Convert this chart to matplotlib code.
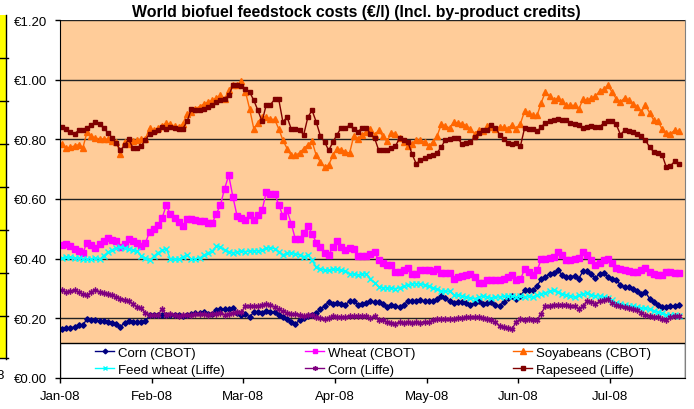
import numpy as np
import matplotlib
matplotlib.use("Agg")
import matplotlib.pyplot as plt
from matplotlib.legend import Legend
from matplotlib.patches import Rectangle
from matplotlib.lines import Line2D
from matplotlib.ticker import FuncFormatter, FixedLocator

plt.rcParams["font.family"] = ["Liberation Sans", "DejaVu Sans"]

# daily quotes, trading-day index on a category axis (labels every 22 days)
month_labels = ["Jan-08", "Feb-08", "Mar-08", "Apr-08", "May-08", "Jun-08", "Jul-08"]
label_step = 22
n_categories = 150

corn_cbot = [
    0.165, 0.168, 0.168, 0.171, 0.177, 0.177, 0.199, 0.196, 0.193, 0.190,
    0.190, 0.188, 0.186, 0.182, 0.171, 0.186, 0.190, 0.189, 0.188, 0.188,
    0.190, 0.210, 0.210, 0.210, 0.212, 0.211, 0.210, 0.210, 0.210, 0.208,
    0.212, 0.214, 0.217, 0.219, 0.221, 0.216, 0.216, 0.227, 0.230, 0.230,
    0.230, 0.235, 0.219, 0.212, 0.216, 0.204, 0.221, 0.220, 0.219, 0.223,
    0.221, 0.221, 0.212, 0.204, 0.199, 0.188, 0.182, 0.193, 0.201, 0.208,
    0.212, 0.219, 0.230, 0.241, 0.255, 0.249, 0.252, 0.249, 0.246, 0.257,
    0.257, 0.246, 0.249, 0.252, 0.257, 0.255, 0.255, 0.247, 0.238, 0.246,
    0.242, 0.238, 0.246, 0.257, 0.257, 0.258, 0.260, 0.258, 0.257, 0.257,
    0.264, 0.275, 0.268, 0.257, 0.252, 0.254, 0.255, 0.250, 0.246, 0.252,
    0.257, 0.249, 0.252, 0.255, 0.246, 0.241, 0.255, 0.268, 0.275, 0.264,
    0.275, 0.294, 0.294, 0.294, 0.309, 0.331, 0.339, 0.350, 0.353, 0.361,
    0.346, 0.339, 0.340, 0.342, 0.333, 0.358, 0.358, 0.347, 0.335, 0.350,
    0.353, 0.339, 0.333, 0.327, 0.313, 0.305, 0.305, 0.298, 0.291, 0.283,
    0.288, 0.266, 0.255, 0.245, 0.238, 0.238, 0.241, 0.242, 0.244,
]

wheat_cbot = [
    0.447, 0.450, 0.442, 0.434, 0.425, 0.420, 0.454, 0.445, 0.436, 0.450,
    0.458, 0.469, 0.462, 0.458, 0.439, 0.450, 0.467, 0.460, 0.454, 0.442,
    0.453, 0.489, 0.500, 0.514, 0.536, 0.579, 0.549, 0.536, 0.523, 0.510,
    0.532, 0.532, 0.530, 0.526, 0.525, 0.521, 0.518, 0.550, 0.579, 0.635,
    0.679, 0.607, 0.543, 0.536, 0.528, 0.545, 0.528, 0.545, 0.562, 0.623,
    0.618, 0.618, 0.580, 0.543, 0.562, 0.517, 0.465, 0.465, 0.487, 0.510,
    0.484, 0.454, 0.440, 0.420, 0.413, 0.439, 0.458, 0.440, 0.428, 0.436,
    0.434, 0.409, 0.409, 0.409, 0.415, 0.422, 0.394, 0.385, 0.378, 0.380,
    0.355, 0.355, 0.362, 0.369, 0.350, 0.350, 0.361, 0.361, 0.361, 0.359,
    0.364, 0.353, 0.353, 0.353, 0.333, 0.338, 0.342, 0.346, 0.350, 0.339,
    0.320, 0.320, 0.327, 0.327, 0.327, 0.327, 0.333, 0.338, 0.344, 0.327,
    0.331, 0.364, 0.355, 0.344, 0.361, 0.398, 0.400, 0.403, 0.406, 0.422,
    0.411, 0.394, 0.397, 0.400, 0.402, 0.424, 0.411, 0.395, 0.380, 0.387,
    0.394, 0.400, 0.385, 0.369, 0.364, 0.361, 0.358, 0.356, 0.355, 0.362,
    0.369, 0.355, 0.350, 0.346, 0.344, 0.355, 0.354, 0.353, 0.353,
]

soyabeans_cbot = [
    0.785, 0.771, 0.774, 0.778, 0.782, 0.772, 0.825, 0.810, 0.804, 0.802,
    0.801, 0.800, 0.795, 0.790, 0.752, 0.790, 0.785, 0.795, 0.798, 0.800,
    0.802, 0.838, 0.830, 0.838, 0.845, 0.855, 0.850, 0.845, 0.841, 0.853,
    0.886, 0.890, 0.903, 0.910, 0.918, 0.925, 0.931, 0.939, 0.947, 0.936,
    0.964, 0.981, 0.981, 0.994, 0.960, 0.903, 0.836, 0.855, 0.875, 0.875,
    0.867, 0.867, 0.835, 0.797, 0.769, 0.746, 0.746, 0.755, 0.769, 0.782,
    0.793, 0.746, 0.725, 0.707, 0.715, 0.746, 0.769, 0.765, 0.758, 0.754,
    0.811, 0.802, 0.815, 0.825, 0.836, 0.816, 0.830, 0.810, 0.793, 0.822,
    0.819, 0.804, 0.790, 0.778, 0.785, 0.799, 0.797, 0.791, 0.778, 0.790,
    0.811, 0.850, 0.845, 0.838, 0.858, 0.855, 0.853, 0.845, 0.834, 0.819,
    0.830, 0.827, 0.844, 0.840, 0.836, 0.841, 0.841, 0.836, 0.849, 0.836,
    0.853, 0.894, 0.889, 0.880, 0.880, 0.923, 0.959, 0.945, 0.931, 0.939,
    0.927, 0.914, 0.914, 0.914, 0.901, 0.934, 0.931, 0.938, 0.945, 0.961,
    0.968, 0.981, 0.958, 0.936, 0.925, 0.939, 0.931, 0.920, 0.908, 0.892,
    0.914, 0.889, 0.864, 0.862, 0.834, 0.822, 0.819, 0.830, 0.827,
]

feed_wheat_liffe = [
    0.402, 0.404, 0.404, 0.403, 0.402, 0.400, 0.398, 0.400, 0.401, 0.398,
    0.410, 0.422, 0.430, 0.436, 0.439, 0.436, 0.431, 0.428, 0.425, 0.410,
    0.402, 0.394, 0.408, 0.420, 0.428, 0.434, 0.398, 0.398, 0.398, 0.406,
    0.413, 0.398, 0.400, 0.402, 0.411, 0.420, 0.425, 0.442, 0.440, 0.428,
    0.422, 0.420, 0.423, 0.425, 0.424, 0.425, 0.426, 0.427, 0.428, 0.436,
    0.436, 0.434, 0.424, 0.413, 0.418, 0.420, 0.417, 0.412, 0.406, 0.413,
    0.394, 0.372, 0.366, 0.361, 0.361, 0.364, 0.364, 0.361, 0.358, 0.350,
    0.348, 0.346, 0.348, 0.350, 0.333, 0.320, 0.305, 0.303, 0.302, 0.301,
    0.300, 0.302, 0.308, 0.313, 0.316, 0.316, 0.316, 0.311, 0.307, 0.302,
    0.297, 0.291, 0.291, 0.291, 0.279, 0.277, 0.275, 0.271, 0.268, 0.266,
    0.271, 0.275, 0.272, 0.268, 0.270, 0.272, 0.275, 0.275, 0.275, 0.272,
    0.275, 0.272, 0.275, 0.272, 0.279, 0.283, 0.286, 0.290, 0.294, 0.288,
    0.282, 0.278, 0.275, 0.270, 0.277, 0.282, 0.286, 0.279, 0.275, 0.275,
    0.272, 0.268, 0.260, 0.252, 0.248, 0.244, 0.241, 0.240, 0.238, 0.235,
    0.233, 0.230, 0.226, 0.221, 0.218, 0.212, 0.212, 0.210, 0.208,
]

corn_liffe = [
    0.294, 0.288, 0.290, 0.294, 0.288, 0.280, 0.277, 0.288, 0.296, 0.288,
    0.285, 0.283, 0.278, 0.272, 0.266, 0.262, 0.258, 0.248, 0.238, 0.233,
    0.219, 0.210, 0.211, 0.212, 0.230, 0.212, 0.215, 0.212, 0.208, 0.210,
    0.211, 0.212, 0.214, 0.216, 0.214, 0.212, 0.216, 0.216, 0.219, 0.212,
    0.215, 0.219, 0.220, 0.221, 0.241, 0.241, 0.241, 0.242, 0.244, 0.249,
    0.244, 0.238, 0.230, 0.223, 0.219, 0.216, 0.214, 0.210, 0.208, 0.210,
    0.212, 0.204, 0.200, 0.197, 0.201, 0.208, 0.206, 0.205, 0.204, 0.208,
    0.208, 0.208, 0.208, 0.208, 0.201, 0.208, 0.193, 0.193, 0.188, 0.186,
    0.182, 0.188, 0.186, 0.188, 0.186, 0.187, 0.186, 0.188, 0.188, 0.193,
    0.199, 0.198, 0.197, 0.197, 0.199, 0.201, 0.201, 0.203, 0.204, 0.204,
    0.204, 0.201, 0.197, 0.193, 0.188, 0.174, 0.171, 0.168, 0.165, 0.188,
    0.197, 0.193, 0.197, 0.193, 0.195, 0.216, 0.241, 0.241, 0.246, 0.246,
    0.246, 0.244, 0.242, 0.241, 0.232, 0.241, 0.257, 0.255, 0.249, 0.257,
    0.261, 0.264, 0.250, 0.244, 0.240, 0.238, 0.235, 0.230, 0.227, 0.219,
    0.210, 0.208, 0.206, 0.204, 0.198, 0.193, 0.204, 0.208, 0.208,
]

rapeseed_liffe = [
    0.841, 0.834, 0.826, 0.819, 0.830, 0.832, 0.839, 0.848, 0.858, 0.850,
    0.838, 0.822, 0.805, 0.788, 0.763, 0.780, 0.800, 0.771, 0.771, 0.778,
    0.797, 0.819, 0.825, 0.830, 0.841, 0.835, 0.840, 0.838, 0.836, 0.836,
    0.860, 0.901, 0.899, 0.897, 0.903, 0.908, 0.914, 0.925, 0.931, 0.936,
    0.947, 0.981, 0.981, 0.978, 0.970, 0.959, 0.931, 0.897, 0.860, 0.916,
    0.916, 0.934, 0.934, 0.858, 0.875, 0.834, 0.834, 0.830, 0.816, 0.875,
    0.897, 0.858, 0.811, 0.791, 0.763, 0.791, 0.816, 0.839, 0.839, 0.847,
    0.834, 0.825, 0.838, 0.838, 0.819, 0.804, 0.763, 0.763, 0.763, 0.771,
    0.777, 0.804, 0.797, 0.791, 0.750, 0.718, 0.730, 0.737, 0.743, 0.749,
    0.755, 0.774, 0.799, 0.802, 0.804, 0.804, 0.783, 0.787, 0.791, 0.808,
    0.821, 0.830, 0.830, 0.849, 0.839, 0.816, 0.802, 0.788, 0.785, 0.789,
    0.777, 0.838, 0.836, 0.834, 0.827, 0.841, 0.856, 0.860, 0.865, 0.869,
    0.864, 0.864, 0.855, 0.851, 0.847, 0.839, 0.841, 0.845, 0.843, 0.841,
    0.855, 0.861, 0.861, 0.850, 0.816, 0.830, 0.827, 0.825, 0.819, 0.811,
    0.797, 0.774, 0.758, 0.755, 0.749, 0.707, 0.711, 0.726, 0.718,
]

fs = 9.5
fig = plt.figure(figsize=(6.94, 4.10), dpi=100)
ax = fig.add_axes([60 / 694, 1 - 379 / 410, 625 / 694, 358 / 410])
ax.set_facecolor("#FFCC99")

x = np.arange(len(corn_cbot))
h_corn = ax.plot(x, corn_cbot, color="#000080", lw=1, marker="D", ms=2.8,
                 mec="#000080", label="Corn (CBOT)")[0]
h_wheat = ax.plot(x, wheat_cbot, color="#FF00FF", lw=1, marker="s", ms=4.2,
                  mec="#FF00FF", label="Wheat (CBOT)")[0]
h_soy = ax.plot(x, soyabeans_cbot, color="#FF6600", lw=1, marker="^", ms=4.3,
                mec="#FF6600", label="Soyabeans (CBOT)")[0]
h_feed = ax.plot(x, feed_wheat_liffe, color="#00FFFF", lw=1, marker="x", ms=3.8,
                 mew=1, label="Feed wheat (Liffe)")[0]
h_cornl = ax.plot(x, corn_liffe, color="#800080", lw=1, marker=(6, 2, 0), ms=4.2,
                  mew=1, label="Corn (Liffe)")[0]
h_rape = ax.plot(x, rapeseed_liffe, color="#800000", lw=1, marker="s", ms=3.0,
                 mec="#800000", label="Rapeseed (Liffe)")[0]

ax.set_xlim(-0.5, n_categories - 0.5)
ax.set_ylim(0, 1.2)
ax.set_yticks(np.arange(0, 1.21, 0.2))
ax.yaxis.set_major_formatter(FuncFormatter(lambda v, p: "\u20ac%.2f" % v))
tick_pos = [k * label_step - 0.5 for k in range(len(month_labels))]
ax.xaxis.set_major_locator(FixedLocator(tick_pos))
ax.set_xticklabels(month_labels)
ax.tick_params(axis="both", labelsize=fs, length=3.5, width=1, direction="out",
               color="#000000")
ax.tick_params(axis="x", pad=5)
ax.tick_params(axis="y", pad=5.5)
ax.grid(axis="y", color="#222222", lw=1)
ax.set_axisbelow(True)
ax.spines["top"].set_visible(False)
ax.spines["right"].set_color("#808080")
ax.spines["left"].set_color("#000000")
ax.spines["bottom"].set_color("#000000")

fig.text(356 / 694, 1 - 12 / 410,
         "World biofuel feedstock costs (\u20ac/l) (Incl. by-product credits)",
         fontsize=11.4, fontweight="bold", ha="center", va="center")

# legend box across the bottom of the plot, three equal-width columns
ax.add_patch(Rectangle((0, 0), 1, 0.098, transform=ax.transAxes,
                       facecolor="white", edgecolor="black", lw=1, zorder=4))
columns = [(h_corn, h_feed), (h_wheat, h_cornl), (h_soy, h_rape)]
col_x = [0.056, 0.392, 0.725]
for pair, cx in zip(columns, col_x):
    leg = Legend(ax, list(pair), [h.get_label() for h in pair],
                 loc="center left", bbox_to_anchor=(cx, 0.047),
                 borderaxespad=0, borderpad=0, fontsize=fs, frameon=False,
                 handlelength=1.45, handletextpad=0.3, labelspacing=0.32,
                 markerscale=0.85)
    leg.set_zorder(5)
    ax.add_artist(leg)

# sliver of the neighbouring chart at the left edge
fig.patches.append(Rectangle((0, 1 - 360 / 410), 5.5 / 694, 344 / 410,
                             transform=fig.transFigure, facecolor="#FFFF00",
                             edgecolor="none"))
for yy in [59, 102, 145, 188, 231, 274, 317, 359]:
    fig.lines.append(Line2D([0, 7.5 / 694], [1 - yy / 410] * 2,
                            transform=fig.transFigure, color="black", lw=1))
fig.lines.append(Line2D([5.5 / 694] * 2, [1 - 16 / 410, 1 - 360 / 410],
                        transform=fig.transFigure, color="black", lw=1))
fig.text(4 / 694, 1 - 376 / 410, "8", ha="right", va="center", fontsize=fs)

fig.savefig("out.png", dpi=100)
